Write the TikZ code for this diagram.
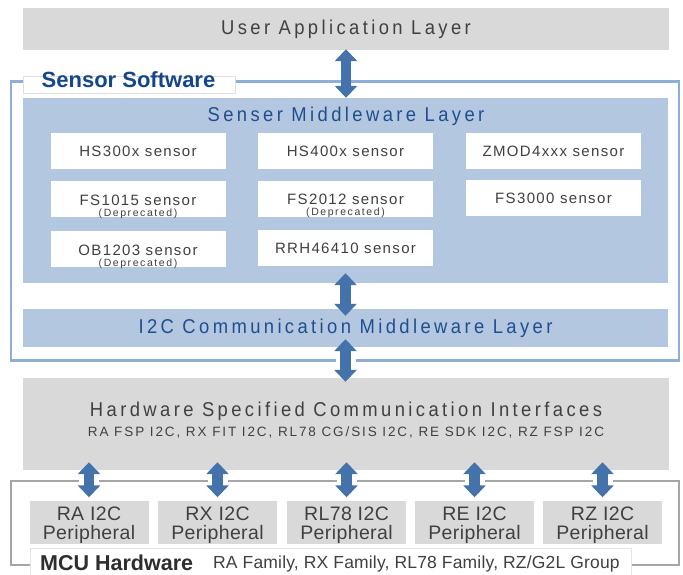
\documentclass[tikz,border=0pt]{standalone}
\usepackage{fontspec}
\setmainfont{Liberation Sans}
\newfontfamily\widesp[LetterSpace=17,FakeStretch=0.92]{Liberation Sans}
\newfontfamily\medsp[LetterSpace=9]{Liberation Sans}
\newfontfamily\smallsp[LetterSpace=14]{Liberation Sans}
\newfontfamily\tinysp[LetterSpace=15]{Liberation Sans}
\newfontfamily\persp[LetterSpace=2]{Liberation Sans}
\newfontfamily\famsp[LetterSpace=1]{Liberation Sans}
\usetikzlibrary{arrows.meta,calc}
\definecolor{boxgray}{HTML}{D9D9D9}
\definecolor{midblue}{HTML}{B3C7E1}
\definecolor{txtblue}{HTML}{1F4E8F}
\definecolor{lblblue}{HTML}{15468C}
\definecolor{arrblue}{HTML}{4472AB}
\definecolor{frblue}{HTML}{8EAED8}
\definecolor{frgray}{HTML}{A6A6A6}
\definecolor{txtgray}{HTML}{404040}
\begin{document}
\begin{tikzpicture}[x=1pt,y=-1pt,
  graybox/.style={rectangle,fill=boxgray,inner sep=0pt,text=txtgray},
  bluebox/.style={rectangle,fill=midblue,inner sep=0pt,text=txtblue},
  sensbox/.style={rectangle,fill=white,inner sep=0pt,minimum width=175pt,minimum height=36pt,text=txtgray,align=center},
  perbox/.style={graybox,minimum width=119pt,minimum height=43pt},
  pertext/.style={text=txtgray,inner sep=0pt,align=center,font=\persp\fontsize{19.5}{19}\selectfont},
  bigarr/.style={draw=arrblue,line width=10.5pt,{Triangle[width=22pt,length=12pt]}-{Triangle[width=22pt,length=12pt]}},
  smallarr/.style={draw=arrblue,line width=10.5pt,{Triangle[width=22pt,length=12pt]}-{Triangle[width=22pt,length=12pt]}},
  gap/.style={fill=white,draw=none},
  layerfont/.style={font=\widesp\fontsize{20}{22}\selectfont},
  sensfont/.style={font=\medsp\fontsize{15}{16}\selectfont},
  depfont/.style={font=\tinysp\fontsize{10.5}{11}\selectfont,text=txtgray,inner sep=0pt}
]
\useasboundingbox (0,0) rectangle (683,574);
% frames
\draw[frblue,line width=2.2pt] (11,81.5) rectangle (679,360.5);
\draw[frgray,line width=2pt] (11,480.5) rectangle (678.5,565);
% layers
\node[graybox,minimum width=646pt,minimum height=42pt,layerfont] (ua) at (346,29) {User Application Layer};
\node[draw=gray!25,fill=white,line width=0.6pt,minimum width=212pt,minimum height=17pt,inner sep=0pt] (sslab) at (129,84.5) {};
\node[text=lblblue,inner sep=0pt,font=\bfseries\fontsize{22}{22}\selectfont] (sslabt) at (128.5,80) {Sensor Software};
\node[bluebox,minimum width=645pt,minimum height=185pt] (sml) at (345.5,190.5) {};
\node[text=txtblue,layerfont,inner sep=0pt] (smlt) at (346,116) {Senser Middleware Layer};
% sensors
\node[sensbox,sensfont] (hs3) at (138,151) {HS300x sensor};
\node[sensbox,sensfont] (hs4) at (345.5,151) {HS400x sensor};
\node[sensbox,sensfont] (zmod) at (553.5,151) {ZMOD4xxx sensor};
\node[sensbox] (fs1) at (138,199) {};
\node[sensfont,text=txtgray,inner sep=0pt] (fs1t) at (138,200) {FS1015 sensor};
\node[depfont] (fs1d) at (138,213.5) {(Deprecated)};
\node[sensbox] (fs2) at (345.5,199) {};
\node[sensfont,text=txtgray,inner sep=0pt] (fs2t) at (345.5,199) {FS2012 sensor};
\node[depfont] (fs2d) at (345.5,212.5) {(Deprecated)};
\node[sensbox,sensfont] (fs3) at (553.5,198) {FS3000 sensor};
\node[sensbox] (ob) at (138,249) {};
\node[sensfont,text=txtgray,inner sep=0pt] (obt) at (138,250) {OB1203 sensor};
\node[depfont] (obd) at (138,263.5) {(Deprecated)};
\node[sensbox,sensfont] (rrh) at (345.5,248) {RRH46410 sensor};
% i2c
\node[bluebox,minimum width=645pt,minimum height=38pt,layerfont] (i2c) at (345.5,328) {I2C Communication Middleware Layer};
% hardware interfaces
\node[graybox,minimum width=646pt,minimum height=92pt] (hw) at (346,424) {};
\node[text=txtgray,layerfont,inner sep=0pt] (hwt) at (346,411) {Hardware Specified Communication Interfaces};
\node[text=txtgray,font=\smallsp\fontsize{13.5}{14}\selectfont,inner sep=0pt] (hws) at (346,432) {RA FSP I2C, RX FIT I2C, RL78 CG/SIS I2C, RE SDK I2C, RZ FSP I2C};
% peripherals
\foreach \n/\x/\t in {p1/89/RA I2C,p2/217.5/RX I2C,p3/346.5/RL78 I2C,p4/474.5/RE I2C,p5/602.5/RZ I2C}{
  \node[perbox] (\n) at (\x,522) {};
  \node[pertext] (\n t) at (\x,525) {\t\\Peripheral};
}
% MCU label
\node[draw=gray!20,line width=0.6pt,fill=white,minimum width=601pt,minimum height=27pt,inner sep=0pt] (mcub) at (330.5,562) {};
\node[anchor=base west,inner sep=0pt,text=black!82] (mcut) at (40,570) {\bfseries\fontsize{21.5}{22}\selectfont MCU Hardware};
\node[anchor=base west,inner sep=0pt,text=txtgray,font=\famsp\fontsize{17.5}{18}\selectfont] (mcuf) at (213,568.5) {RA Family, RX Family, RL78 Family, RZ/G2L Group};
% gaps where arrows cross frame lines
\fill[gap] (336,357) rectangle (356,364);
\foreach \x in {89,217.5,346.5,474.5,602.5}{
  \fill[gap] (\x-10,477) rectangle (\x+10,484);
}
% arrows
\coordinate (a1s) at ($(ua.south)+(0,-1)$);
\draw[bigarr] (a1s) -- (a1s |- sml.north);
\coordinate (a2s) at ($(sml.south)+(0,-10)$);
\draw[bigarr] (a2s) -- ($(a2s |- i2c.north)+(0,7)$);
\coordinate (a3s) at ($(i2c.south)+(0,-8)$);
\draw[bigarr] (a3s) -- ($(a3s |- hw.north)+(0,4)$);
\foreach \p in {p1,p2,p3,p4,p5}{
  \draw[smallarr] ($(hw.south -| \p.north)+(0,-8)$) -- ($(\p.north)+(0,-3)$);
}
\end{tikzpicture}
\end{document}
